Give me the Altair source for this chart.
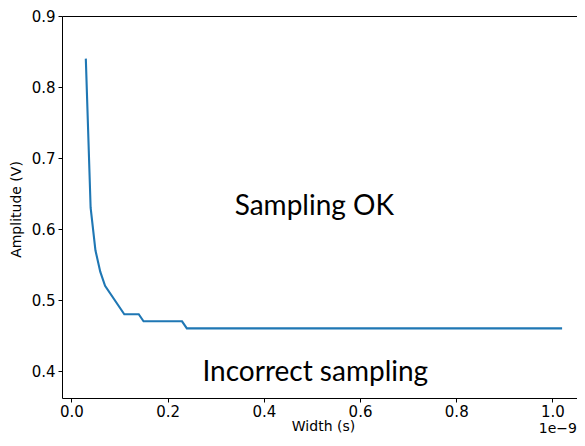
import altair as alt
import pandas as pd

# Width in units of 1e-9 s, amplitude in V
width_ns = [0.03, 0.04, 0.05, 0.06, 0.07, 0.11, 0.14, 0.15, 0.23, 0.24, 1.02]
amplitude = [0.84, 0.63, 0.57, 0.54, 0.52, 0.48, 0.48, 0.47, 0.47, 0.46, 0.46]

x_ticks = [0.0, 0.2, 0.4, 0.6, 0.8, 1.0]
y_ticks = [0.4, 0.5, 0.6, 0.7, 0.8, 0.9]

ann_text = ["Sampling OK", "Incorrect sampling"]
ann_x = [0.505, 0.507]
ann_y = [0.631, 0.397]

df = pd.DataFrame({"w": width_ns, "a": amplitude})
ann = pd.DataFrame({"t": ann_text, "x": ann_x, "y": ann_y})

xscale = alt.Scale(domain=[-0.0195, 1.051], nice=False, zero=False)
yscale = alt.Scale(domain=[0.362, 0.9], nice=False, zero=False)

line = alt.Chart(df).mark_line(color="#1f77b4", strokeWidth=2.1).encode(
    x=alt.X("w:Q", scale=xscale,
            axis=alt.Axis(title="Width (s)", values=x_ticks, format=".1f",
                          titleX=261)),
    y=alt.Y("a:Q", scale=yscale,
            axis=alt.Axis(title="Amplitude (V)", values=y_ticks, format=".1f",
                          titleY=193)),
)

texts = alt.Chart(ann).mark_text(
    font="Lato", fontSize=28, color="black", align="center", baseline="middle"
).encode(
    x=alt.X("x:Q", scale=xscale),
    y=alt.Y("y:Q", scale=yscale),
    text="t:N",
)

offset = alt.Chart(pd.DataFrame({"t": ["1e\u22129"]})).mark_text(
    font="DejaVu Sans", fontSize=14, color="black", align="right", baseline="bottom"
).encode(
    x=alt.value(515), y=alt.value(420), text="t:N"
)

chart = alt.layer(line, texts, offset).properties(
    width=515, height=382,
    autosize=alt.AutoSizeParams(type="none"),
    padding={"left": 54, "top": 8, "right": 0, "bottom": 38},
).configure_view(
    stroke="black", strokeWidth=1
).configure_axis(
    grid=False,
    domain=False,
    tickColor="black",
    tickSize=4,
    tickWidth=1,
    labelFont="DejaVu Sans",
    labelFontSize=15,
    labelColor="black",
    labelPadding=3,
    titleFont="DejaVu Sans",
    titleFontSize=14,
    titleFontWeight="normal",
    titleColor="black",
).configure_axisY(
    titlePadding=8
).configure_axisX(
    titlePadding=0, labelPadding=2
)

chart.save("out.html", embed_options={"renderer": "svg", "actions": False})
